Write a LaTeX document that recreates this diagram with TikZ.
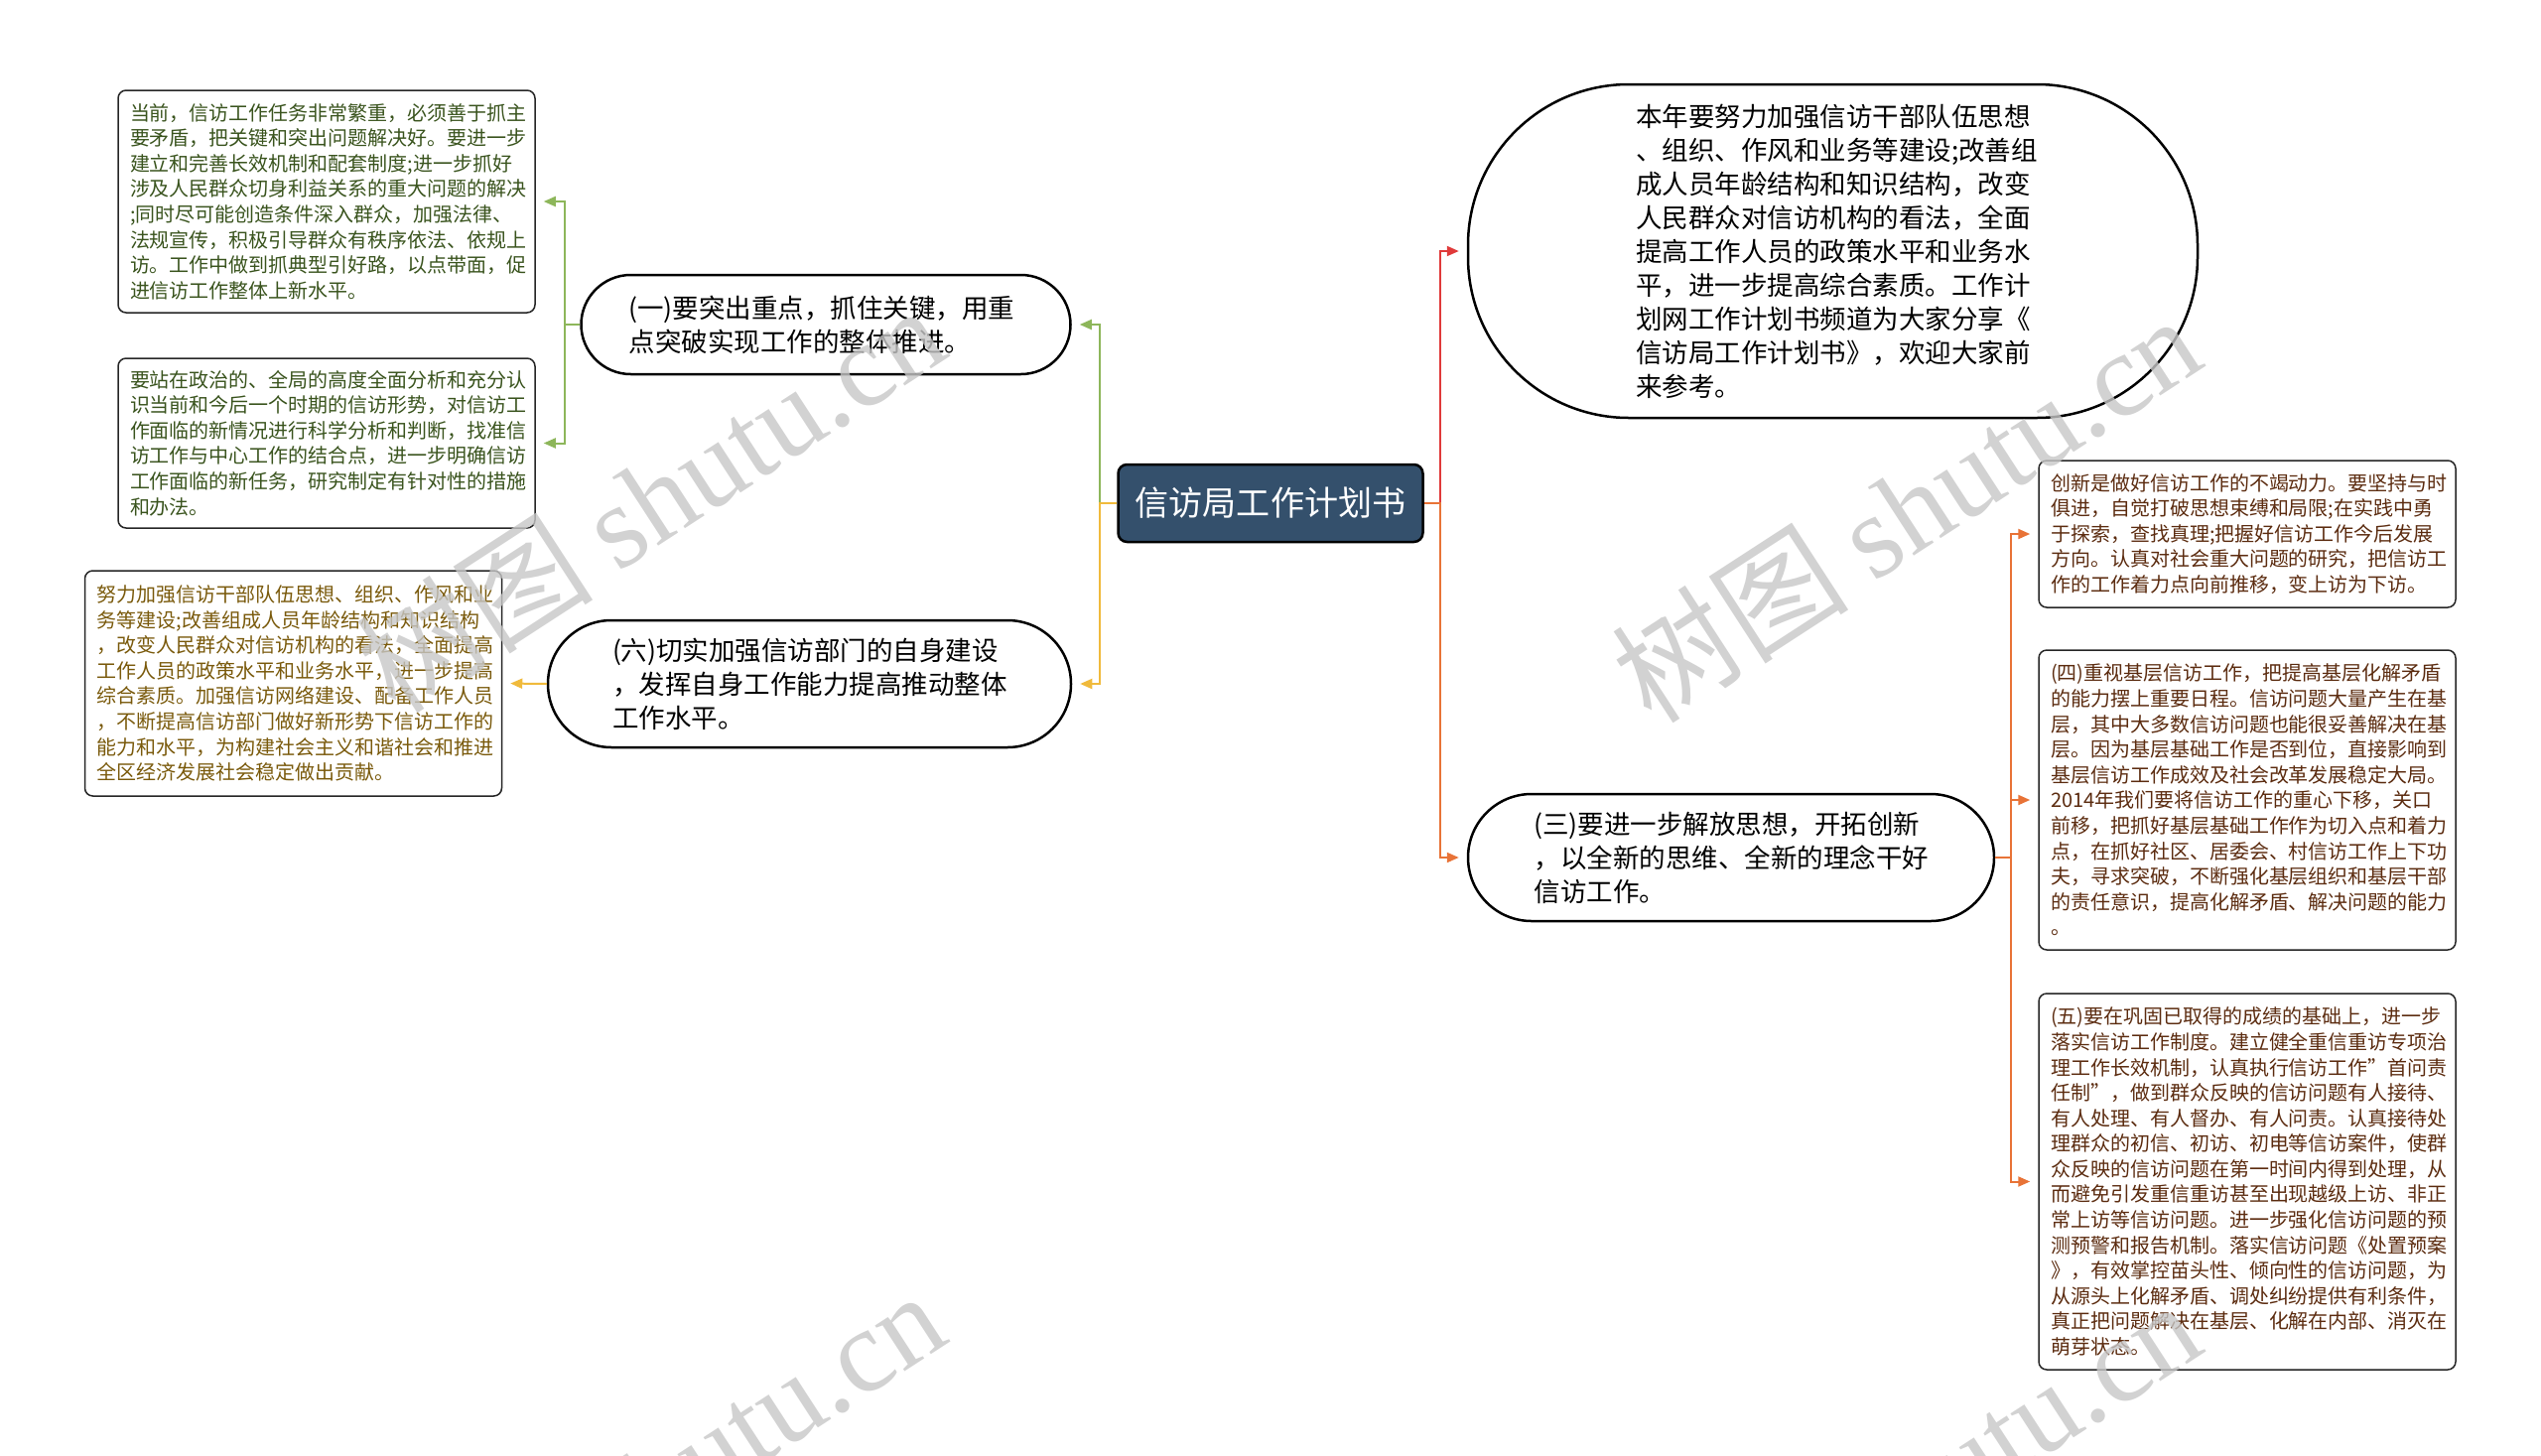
\documentclass[tikz,border=0pt]{standalone}
\usepackage{fontspec}
\setmainfont{Noto Sans CJK SC}
\newfontfamily\wmserif{Liberation Serif}
\usetikzlibrary{arrows.meta}

\definecolor{rootblue}{RGB}{52,80,108}
\definecolor{lgreen}{RGB}{141,182,90}
\definecolor{lyellow}{RGB}{240,186,60}
\definecolor{lred}{RGB}{224,58,58}
\definecolor{lorange}{RGB}{232,115,55}
\definecolor{tgreen}{RGB}{58,84,30}
\definecolor{tgold}{RGB}{122,90,12}
\definecolor{tbrown}{RGB}{92,44,16}

\newcommand{\leaffont}{\fontsize{5.69pt}{7.28pt}\selectfont}
\newcommand{\branchfont}{\fontsize{7.54pt}{9.67pt}\selectfont}
\newcommand{\rootfont}{\fontsize{9.7pt}{11pt}\selectfont}

\tikzset{
  root/.style={draw=black, line width=0.025cm, fill=rootblue, text=white,
    rounded corners=0.09cm, minimum width=3.07cm, minimum height=0.78cm, font=\rootfont},
  branch/.style={draw=black, line width=0.025cm, fill=white, text width=3.97cm,
    align=left, inner sep=0pt, font=\branchfont},
  leaf/.style={draw=black!85, line width=0.015cm, fill=white, rounded corners=0.08cm,
    text width=3.96cm, align=left, inner xsep=0.12cm, inner ysep=0pt, font=\leaffont},
  link/.style={line width=0.02cm, shorten >=0.08cm, -{Triangle[length=0.12cm,width=0.1cm]}},
  wmark/.style={text=black!22, text opacity=0.8, rotate=33, inner sep=0pt}
}

\begin{document}
\begin{tikzpicture}
    \useasboundingbox (0,0) rectangle (25.6,-14.66);
    \clip (0,0) rectangle (25.6,-14.66);

    % Root
    \node[root] (root) at (12.80,-5.07) {信访局工作计划书};

    % Left side
    \node[branch, minimum width=4.93cm, minimum height=1.00cm, rounded corners=0.5cm] (b1) at (8.32,-3.27)
        {(一)要突出重点，抓住关键，用重\\点突破实现工作的整体推进。};
    \node[branch, minimum width=5.27cm, minimum height=1.28cm, rounded corners=0.64cm] (b6) at (8.155,-6.89)
        {(六)切实加强信访部门的自身建设\\，发挥自身工作能力提高推动整体\\工作水平。};

    \node[leaf, text=tgreen, minimum height=2.24cm] (l1) at (3.29,-2.03)
        {当前，信访工作任务非常繁重，必须善于抓主\\要矛盾，把关键和突出问题解决好。要进一步\\建立和完善长效机制和配套制度;进一步抓好\\涉及人民群众切身利益关系的重大问题的解决\\;同时尽可能创造条件深入群众，加强法律、\\法规宣传，积极引导群众有秩序依法、依规上\\访。工作中做到抓典型引好路，以点带面，促\\进信访工作整体上新水平。};
    \node[leaf, text=tgreen, minimum height=1.71cm] (l2) at (3.29,-4.465)
        {要站在政治的、全局的高度全面分析和充分认\\识当前和今后一个时期的信访形势，对信访工\\作面临的新情况进行科学分析和判断，找准信\\访工作与中心工作的结合点，进一步明确信访\\工作面临的新任务，研究制定有针对性的措施\\和办法。};
    \node[leaf, text=tgold, minimum height=2.27cm] (l3) at (2.955,-6.885)
        {努力加强信访干部队伍思想、组织、作风和业\\务等建设;改善组成人员年龄结构和知识结构\\，改变人民群众对信访机构的看法，全面提高\\工作人员的政策水平和业务水平，进一步提高\\综合素质。加强信访网络建设、配备工作人员\\，不断提高信访部门做好新形势下信访工作的\\能力和水平，为构建社会主义和谐社会和推进\\全区经济发展社会稳定做出贡献。};

    \draw[link, lgreen] (root.west) -- ++(-0.17,0) |- (b1.east);
    \draw[link, lyellow] (root.west) -- ++(-0.17,0) |- (b6.east);
    \draw[link, lgreen] (b1.west) -- ++(-0.15,0) |- (l1.east);
    \draw[link, lgreen] (b1.west) -- ++(-0.15,0) |- (l2.east);
    \draw[link, lyellow] (b6.west) -- (l3.east);

    % Right side
    \node[branch, minimum width=7.35cm, minimum height=3.36cm, rounded corners=1.62cm] (b0) at (18.465,-2.53)
        {本年要努力加强信访干部队伍思想\\、组织、作风和业务等建设;改善组\\成人员年龄结构和知识结构，改变\\人民群众对信访机构的看法，全面\\提高工作人员的政策水平和业务水\\平，进一步提高综合素质。工作计\\划网工作计划书频道为大家分享《\\信访局工作计划书》，欢迎大家前\\来参考。};
    \node[branch, minimum width=5.30cm, minimum height=1.28cm, rounded corners=0.64cm] (b3) at (17.44,-8.64)
        {(三)要进一步解放思想，开拓创新\\，以全新的思维、全新的理念干好\\信访工作。};

    \node[leaf, text=tbrown, minimum height=1.48cm] (r1) at (22.64,-5.38)
        {创新是做好信访工作的不竭动力。要坚持与时\\俱进，自觉打破思想束缚和局限;在实践中勇\\于探索，查找真理;把握好信访工作今后发展\\方向。认真对社会重大问题的研究，把信访工\\作的工作着力点向前推移，变上访为下访。};
    \node[leaf, text=tbrown, minimum height=3.02cm] (r2) at (22.64,-8.06)
        {(四)重视基层信访工作，把提高基层化解矛盾\\的能力摆上重要日程。信访问题大量产生在基\\层，其中大多数信访问题也能很妥善解决在基\\层。因为基层基础工作是否到位，直接影响到\\基层信访工作成效及社会改革发展稳定大局。\\2014年我们要将信访工作的重心下移，关口\\前移，把抓好基层基础工作作为切入点和着力\\点，在抓好社区、居委会、村信访工作上下功\\夫，寻求突破，不断强化基层组织和基层干部\\的责任意识，提高化解矛盾、解决问题的能力\\。};
    \node[leaf, text=tbrown, minimum height=3.79cm] (r3) at (22.64,-11.905)
        {(五)要在巩固已取得的成绩的基础上，进一步\\落实信访工作制度。建立健全重信重访专项治\\理工作长效机制，认真执行信访工作\symbol{34}首问责\\任制\symbol{34}，做到群众反映的信访问题有人接待、\\有人处理、有人督办、有人问责。认真接待处\\理群众的初信、初访、初电等信访案件，使群\\众反映的信访问题在第一时间内得到处理，从\\而避免引发重信重访甚至出现越级上访、非正\\常上访等信访问题。进一步强化信访问题的预\\测预警和报告机制。落实信访问题《处置预案\\》，有效掌控苗头性、倾向性的信访问题，为\\从源头上化解矛盾、调处纠纷提供有利条件，\\真正把问题解决在基层、化解在内部、消灭在\\萌芽状态。};

    \draw[link, lred] (root.east) -- ++(0.16,0) |- (b0.west);
    \draw[link, lorange] (root.east) -- ++(0.16,0) |- (b3.west);
    \draw[link, lorange] (b3.east) -- ++(0.16,0) |- (r1.west);
    \draw[link, lorange] (b3.east) -- ++(0.16,0) |- (r2.west);
    \draw[link, lorange] (b3.east) -- ++(0.16,0) |- (r3.west);

    % Watermarks
    \node[wmark] (wm1) at (6.55,-5.02) {\fontsize{34pt}{38pt}\selectfont 树图 {\wmserif shutu.cn}};
    \node[wmark] (wm2) at (19.20,-5.12) {\fontsize{34pt}{38pt}\selectfont 树图 {\wmserif shutu.cn}};
    \node[wmark] (wm3) at (6.55,-14.95) {\fontsize{34pt}{38pt}\selectfont 树图 {\wmserif shutu.cn}};
    \node[wmark] (wm4) at (19.20,-15.05) {\fontsize{34pt}{38pt}\selectfont 树图 {\wmserif shutu.cn}};
\end{tikzpicture}
\end{document}
